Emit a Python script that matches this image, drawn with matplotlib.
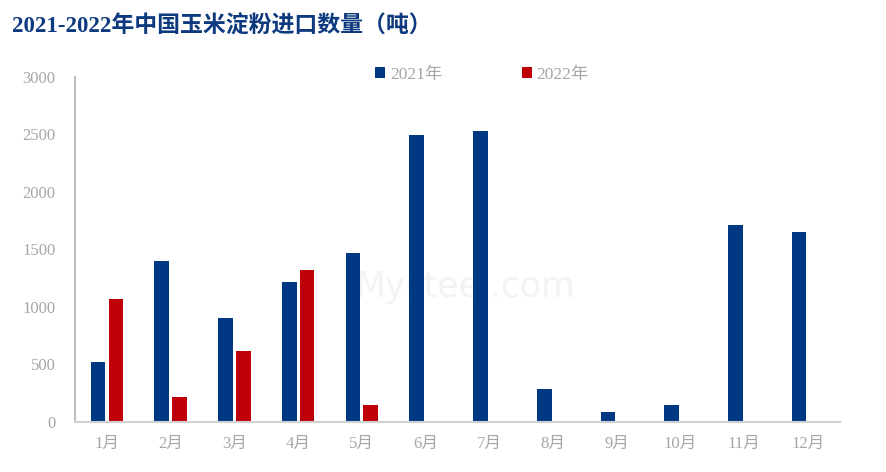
import matplotlib.pyplot as plt
import numpy as np

# data (tonnes)
months = ['1月', '2月', '3月', '4月', '5月', '6月', '7月', '8月', '9月', '10月', '11月', '12月']
sales_2021 = [520, 1400, 900, 1215, 1465, 2495, 2530, 285, 90, 145, 1710, 1655]
sales_2022 = [1070, 215, 615, 1320, 145]

fonts = ['Liberation Serif', 'Noto Sans CJK SC']
plt.rcParams['font.family'] = fonts

blue = '#003883'
red = '#BE0008'
gray = '#a6a6a6'

fig = plt.figure(figsize=(8.86, 4.72), dpi=100)
ax = fig.add_axes([0.0847, 0.106, 0.8633, 0.731])

x = np.arange(len(months))
w = 0.23
ax.bar(x - 0.14, sales_2021, width=w, color=blue, label='2021年', zorder=2)
ax.bar(x[:len(sales_2022)] + 0.14, sales_2022, width=w, color=red, label='2022年', zorder=2)

ax.set_xlim(-0.5, len(months) - 0.5)
ax.set_ylim(0, 3000)
ax.set_yticks(range(0, 3001, 500))
ax.set_xticks(x)
ax.set_xticklabels(months)
ax.tick_params(axis='both', length=0, colors=gray, labelsize=12)
ax.tick_params(axis='y', pad=14)
ax.tick_params(axis='x', pad=10)

for s in ['top', 'right']:
    ax.spines[s].set_visible(False)
ax.spines['left'].set_color('#bfbfbf')
ax.spines['left'].set_linewidth(1.5)
ax.spines['bottom'].set_color('#d0d0d0')
ax.spines['bottom'].set_linewidth(1.5)

leg = ax.legend(loc='upper center', bbox_to_anchor=(0.532, 1.075), ncol=2, frameon=False,
                fontsize=12.5, handlelength=0.6, handleheight=0.6, handletextpad=0.25,
                columnspacing=4.6)
for t in leg.get_texts():
    t.set_color(gray)

# faint watermark behind the bars
ax.text(0.51, 0.39, 'Mysteel.com', transform=ax.transAxes, fontsize=25, color='#f3f3f3',
        ha='center', va='center', family='DejaVu Sans', zorder=0)

fig.text(0.014, 0.945, '2021-2022年中国玉米淀粉进口数量（吨）', fontsize=16.5,
         fontweight='bold', color='#0D3A7E', ha='left', va='center')

fig.savefig('out.png', dpi=100)
